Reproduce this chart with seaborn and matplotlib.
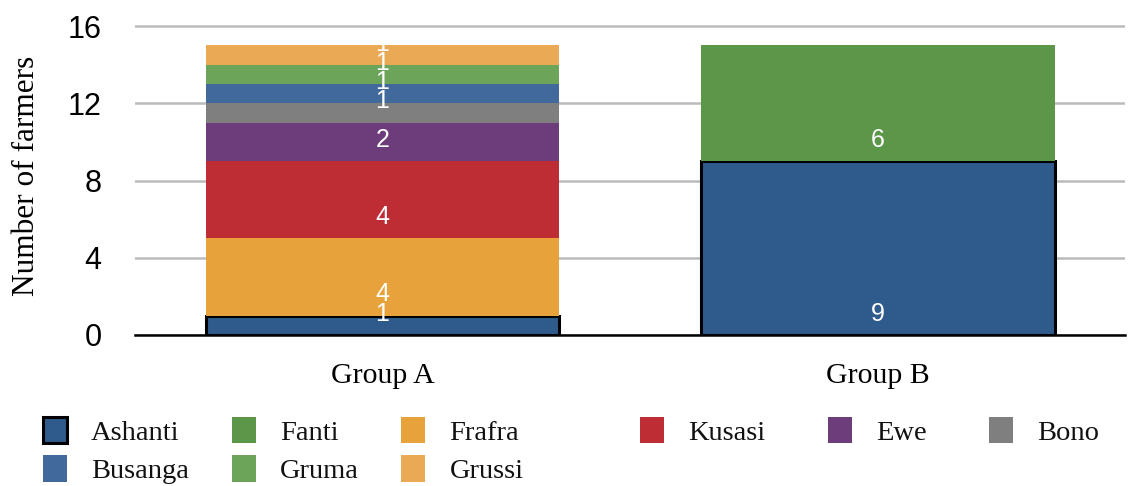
import matplotlib
matplotlib.use("Agg")
import matplotlib.pyplot as plt
import seaborn as sns
import numpy as np

# Farmer counts by ethnic group in each study group
groups = ["Group A", "Group B"]
ethnicities = ["Ashanti", "Fanti", "Frafra", "Kusasi", "Ewe", "Bono",
               "Busanga", "Gruma", "Grussi"]
ashanti = [1, 9]
fanti = [0, 6]
frafra = [4, 0]
kusasi = [4, 0]
ewe = [2, 0]
bono = [1, 0]
busanga = [1, 0]
gruma = [1, 0]
grussi = [1, 0]
yticks = [0, 4, 8, 12, 16]

series = [ashanti, fanti, frafra, kusasi, ewe, bono, busanga, gruma, grussi]
colors = ["#2E5A8C", "#5B9649", "#E7A23B", "#BD2D33", "#6D3C7A",
          "#7F7F7F", "#42699B", "#6CA45A", "#EAAA55"]

sns.set_theme(style="white")
plt.rcParams["font.family"] = ["Liberation Serif", "DejaVu Serif"]

fig = plt.figure(figsize=(11.29, 4.86), dpi=100)
ax = fig.add_axes([0.1196, 0.3107, 0.8769, 0.6553])

bottom = np.zeros(len(groups))
for name, vals, col in zip(ethnicities, series, colors):
    vals = np.asarray(vals, dtype=float)
    edge = dict(edgecolor="black", linewidth=2.2) if name == "Ashanti" else dict(linewidth=0)
    sns.barplot(x=groups, y=vals, bottom=bottom, color=col, saturation=1,
                width=0.715, label=name, ax=ax, zorder=3, **edge)
    for i, v in enumerate(vals):
        if v > 0:
            ax.text(i, bottom[i] + 1.1, f"{int(v)}", ha="center", va="center",
                    color="white", fontsize=18, family="Liberation Sans", zorder=5)
    bottom += vals

if ax.get_legend() is not None:
    ax.get_legend().remove()

ax.set_xlim(-0.5, 1.5)
ax.set_ylim(0, 16.5)
ax.set_yticks(yticks)
ax.set_yticklabels([str(t) for t in yticks], family="Liberation Sans", fontsize=22)
ax.tick_params(axis="y", length=0, pad=24, colors="black")
ax.tick_params(axis="x", length=0, pad=20, labelsize=21.5, colors="black")
ax.set_xlabel("")
ax.set_ylabel("Number of farmers", fontsize=22.5, color="black", labelpad=19)

ax.yaxis.grid(True, color="#BBBBBB", linewidth=1.8, zorder=0)
ax.xaxis.grid(False)
for s in ["left", "right", "top"]:
    ax.spines[s].set_visible(False)
ax.spines["bottom"].set_color("black")
ax.spines["bottom"].set_linewidth(1.8)
ax.spines["bottom"].set_zorder(4)

handles, labels = ax.get_legend_handles_labels()
hmap = dict(zip(labels, handles))

leg_kw = dict(frameon=False, fontsize=20.5, handlelength=0.84, handleheight=1.05,
              handletextpad=0.85, labelspacing=0.33,
              borderpad=0, borderaxespad=0, loc="upper left")
order1 = ["Ashanti", "Busanga", "Fanti", "Gruma", "Frafra", "Grussi"]
leg1 = fig.legend([hmap[k] for k in order1], order1, ncol=3, columnspacing=1.5,
                  bbox_to_anchor=(43 / 1129, 1 - 417 / 486), **leg_kw)
order2 = ["Kusasi", "Ewe", "Bono"]
leg2 = fig.legend([hmap[k] for k in order2], order2, ncol=3, columnspacing=2.2,
                  bbox_to_anchor=(640 / 1129, 1 - 417 / 486), **leg_kw)
for leg in (leg1, leg2):
    for t in leg.get_texts():
        t.set_color("#111111")

fig.savefig("out.png", dpi=100)
